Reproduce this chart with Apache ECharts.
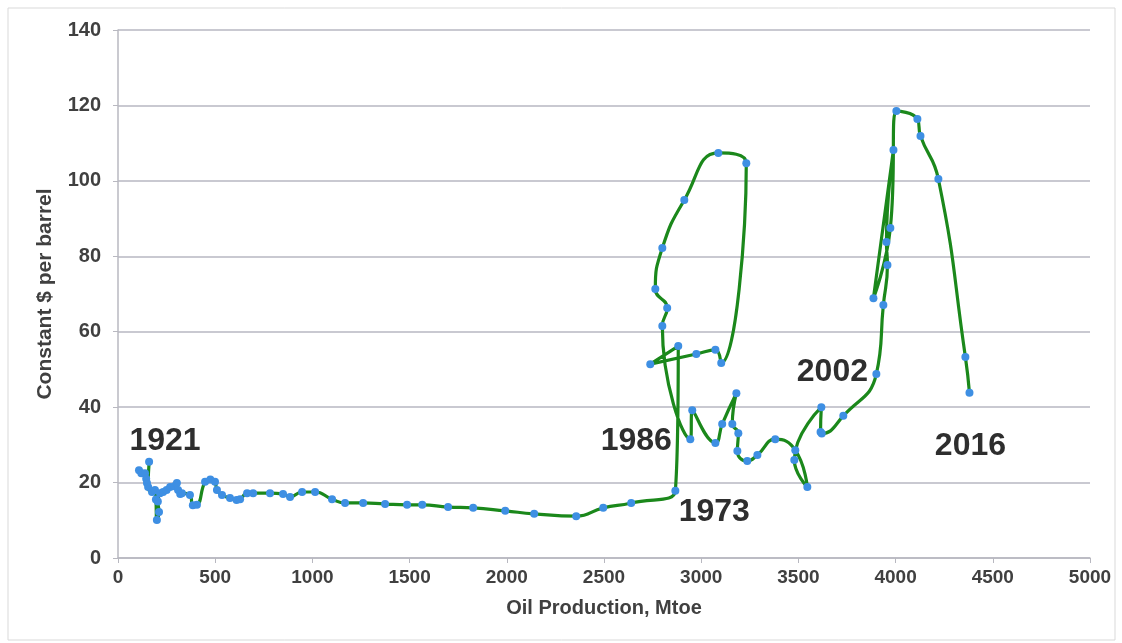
<!DOCTYPE html>
<html>
<head>
<meta charset="utf-8">
<script src="https://cdn.jsdelivr.net/npm/echarts@6/dist/echarts.min.js"></script>
<style>
html,body{margin:0;padding:0;background:#fff;}
#chart{width:1122px;height:643px;}
</style>
</head>
<body>
<div id="chart"></div>
<script>
// Oil production (Mtoe), 1921 -> 2016, in year order
const production = [
  108, 120, 139, 145, 149, 160, 155, 175, 190, 195, 200, 211, 205, 216, 232, 250, 268, 290, 303, 309, 320, 329, 370, 385, 406,
  448, 475, 499, 509, 535, 576, 610, 628, 664, 695, 782, 849, 885, 947, 1014,
  1101, 1168, 1261, 1374, 1487, 1565, 1698, 1827, 1992, 2141, 2357, 2496, 2640, 2867,
  2882, 2738, 2975, 3073, 3103, 3232, 3088, 2913, 2800, 2764, 2825, 2800,
  2944, 2954, 3073, 3108, 3181, 3160, 3191, 3186, 3237, 3289, 3381, 3484, 3546, 3479,
  3618, 3614, 3620, 3731, 3901, 3937, 3958, 3953, 3989, 3886, 3973, 4004, 4112, 4128, 4220, 4359, 4380
];
// Price, constant $ per barrel, same order
const price = [
  23.3, 22.5, 22.5, 21.0, 19.9, 25.5, 18.8, 17.5, 18.0, 15.5, 10.1, 12.2, 15.0, 17.2, 17.5, 18.0, 18.8, 19.0, 19.9, 18.0, 17.0, 17.2, 16.7, 14.0, 14.1,
  20.2, 20.8, 20.2, 18.0, 16.7, 15.9, 15.4, 15.6, 17.2, 17.2, 17.2, 17.0, 16.2, 17.5, 17.5,
  15.6, 14.6, 14.6, 14.3, 14.1, 14.1, 13.5, 13.3, 12.5, 11.7, 11.1, 13.3, 14.6, 17.8,
  56.2, 51.4, 54.1, 55.2, 51.7, 104.7, 107.4, 94.9, 82.2, 71.3, 66.3, 61.5,
  31.5, 39.2, 30.5, 35.5, 43.7, 35.5, 33.1, 28.4, 25.7, 27.3, 31.5, 28.6, 18.8, 26.0,
  40.0, 33.4, 33.0, 37.7, 48.8, 67.1, 77.7, 83.8, 108.2, 68.9, 87.5, 118.5, 116.4, 111.9, 100.5, 53.3, 43.8
];
// Year annotations [production, price, label]
const yearLabels = [
  [242, 31.0, '1921'],
  [2666, 31.0, '1986'],
  [3067, 12.2, '1973'],
  [3675, 49.3, '2002'],
  [4385, 29.7, '2016']
];
const xTicks = {min: 0, max: 5000, interval: 500};
const yTicks = {min: 0, max: 140, interval: 20};

const lineData = production.map((x, i) => [x, price[i]]);
const font = 'Liberation Sans';

const chart = echarts.init(document.getElementById('chart'));
chart.setOption({
  animation: false,
  backgroundColor: '#fff',
  graphic: [{
    type: 'rect',
    shape: {x: 8, y: 8, width: 1107, height: 632},
    style: {fill: 'none', stroke: '#d9d9d9', lineWidth: 1}
  }],
  grid: {left: 118, right: 32, top: 30, bottom: 85},
  xAxis: {
    type: 'value',
    min: xTicks.min, max: xTicks.max, interval: xTicks.interval,
    name: 'Oil Production, Mtoe',
    nameLocation: 'middle',
    nameGap: 40,
    nameTextStyle: {fontFamily: font, fontWeight: 'bold', fontSize: 20, color: '#404040'},
    axisLine: {show: true, lineStyle: {color: '#b8b8c0', width: 1.5}},
    axisTick: {show: true, length: 5, lineStyle: {color: '#b8b8c0'}},
    axisLabel: {fontFamily: font, fontWeight: 'bold', fontSize: 19, color: '#404040', margin: 10,
      formatter: v => String(v)},
    splitLine: {show: false}
  },
  yAxis: {
    type: 'value',
    min: yTicks.min, max: yTicks.max, interval: yTicks.interval,
    name: 'Constant $ per barrel',
    nameLocation: 'middle',
    nameGap: 62,
    nameRotate: 90,
    nameTextStyle: {fontFamily: font, fontWeight: 'bold', fontSize: 21, color: '#404040'},
    axisLine: {show: true, lineStyle: {color: '#b8b8c0', width: 1.5}},
    axisTick: {show: true, length: 5, lineStyle: {color: '#b8b8c0'}},
    axisLabel: {fontFamily: font, fontWeight: 'bold', fontSize: 20, color: '#404040', margin: 17},
    splitLine: {show: true, lineStyle: {color: '#c9c9d1', width: 2}}
  },
  series: [
    {
      type: 'line',
      data: lineData,
      smooth: 0.5,
      symbol: 'circle',
      symbolSize: 8,
      showAllSymbol: true,
      lineStyle: {color: '#1b881b', width: 3.2},
      itemStyle: {color: '#3e8fe3'},
      z: 3
    },
    {
      type: 'scatter',
      data: yearLabels.map(d => ({value: [d[0], d[1]], name: d[2]})),
      symbolSize: 0,
      silent: true,
      itemStyle: {opacity: 1},
      label: {
        show: true,
        position: 'inside',
        formatter: p => p.name,
        fontFamily: font,
        fontWeight: 'bold',
        fontSize: 32,
        color: '#2e2e2e'
      },
      z: 4
    }
  ]
});
</script>
</body>
</html>
